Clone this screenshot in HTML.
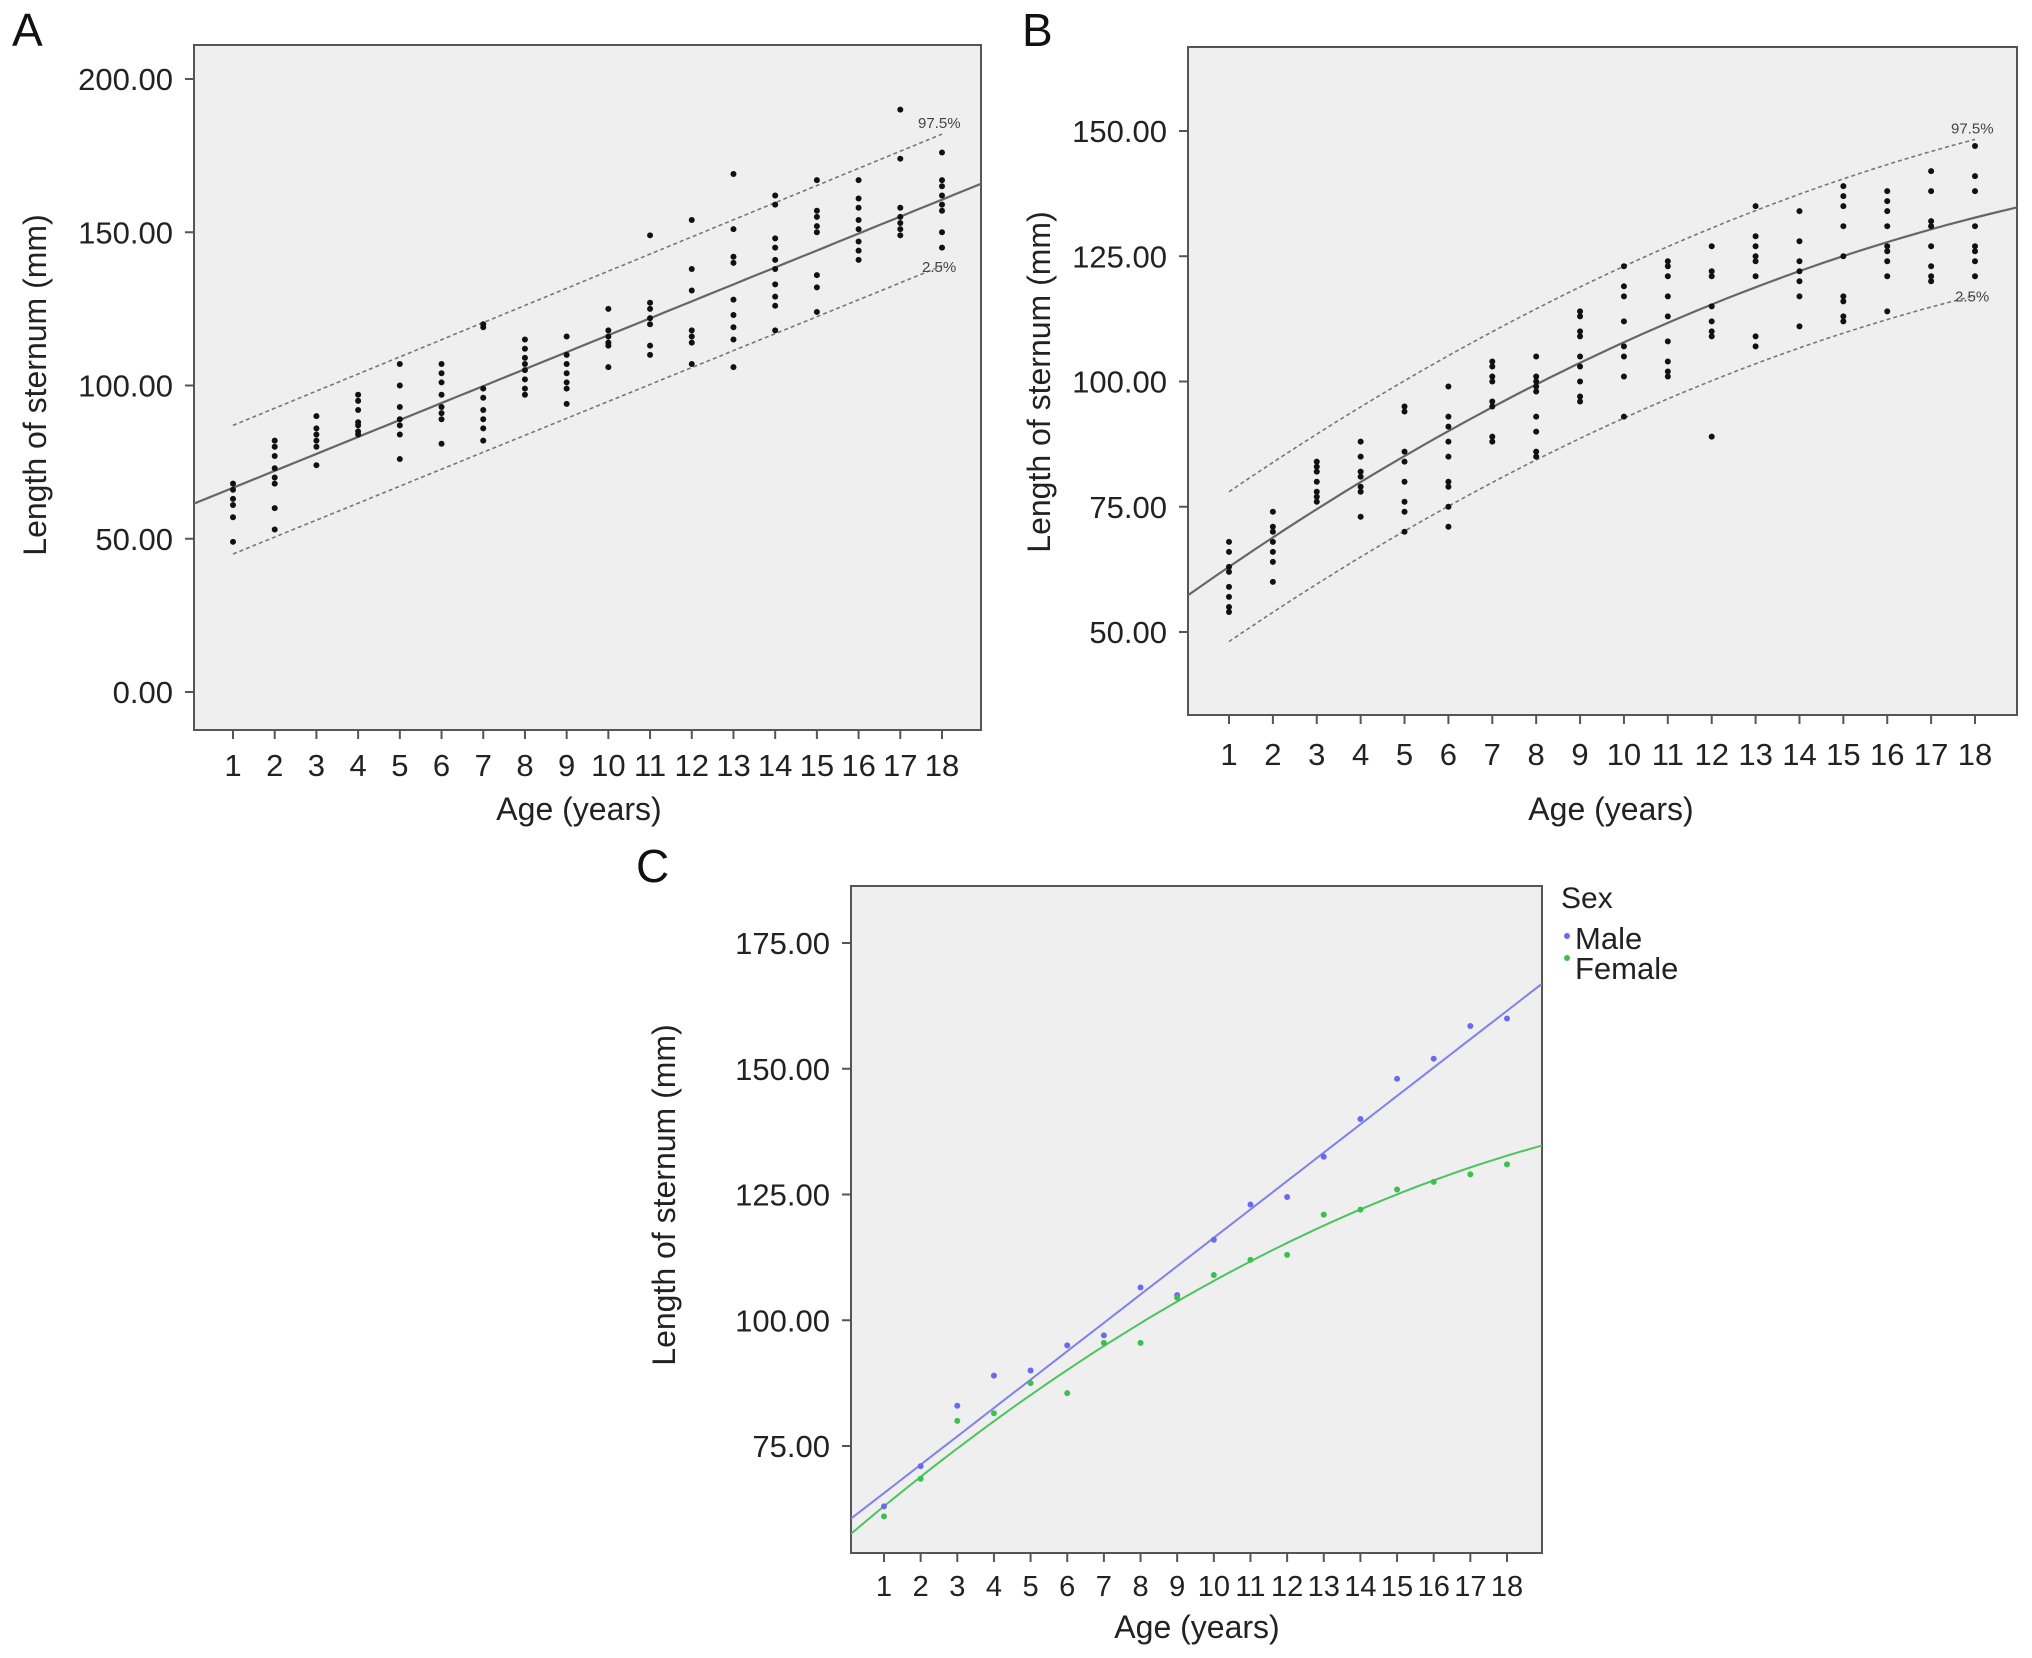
<!DOCTYPE html>
<html><head><meta charset="utf-8">
<style>
html,body{margin:0;padding:0;background:#fff;}
svg{display:block;font-family:"Liberation Sans",Arial,sans-serif;}
</style></head>
<body>
<svg id="fig" width="2032" height="1658" viewBox="0 0 2032 1658"></svg>
<script>
const ages = [1,2,3,4,5,6,7,8,9,10,11,12,13,14,15,16,17,18];
const ticksA = [0,50,100,150,200];
const ticksB = [50,75,100,125,150];
const ticksC = [75,100,125,150,175];
const pointsA = [
[68,66,63,61,57,49],[82,80,77,73,70,68,60,53],[90,86,84,82,80,74],[97,95,92,88,87,85,84],
[107,100,93,89,87,84,76],[107,104,101,97,93,91,89,81],[120,119,99,96,92,89,86,82],
[115,112,109,107,105,102,99,97],[116,110,107,104,101,99,94],[125,118,116,114,113,106],
[149,127,125,122,120,113,110],[154,138,131,118,116,114,107],[169,151,142,140,128,123,119,115,106],
[162,159,148,145,141,138,133,129,126,118],[167,157,155,152,150,136,132,124],
[167,161,158,154,151,147,144,141],[190,174,158,155,153,151,149],[176,167,165,162,159,157,150,145]];
const pointsB = [
[68,66,63,62,59,57,55,54],[74,71,70,68,66,64,60],[84,83,82,80,78,77,76],[88,85,82,81,79,78,73],
[95,94,86,84,80,76,74,70],[99,93,91,88,85,80,79,75,71],[104,103,101,100,96,95,89,88],
[105,101,100,99,98,93,90,86,85],[114,113,110,109,105,103,100,97,96],[123,119,117,112,107,105,101,93],
[124,123,121,117,113,108,104,102,101],[127,122,121,115,112,110,109,89],[135,129,127,125,124,121,109,107],
[134,128,124,122,120,117,111],[139,137,135,131,125,117,116,113,112],[138,136,134,131,127,126,124,121,114],
[142,138,132,131,127,123,121,120],[147,141,138,131,127,126,124,121]];
const maleMeans = [63,71,83,89,90,95,97,106.5,105,116,123,124.5,132.5,140,148,152,158.5,160];
const femaleMeans = [61,68.5,80,81.5,87.5,85.5,95.5,95.5,104.5,109,112,113,121,122,126,127.5,129,131];
// fit coefficients [a,b,c] : a + b*age + c*age^2
const fitA = [61.1,5.53,0], fitAup = [81.4,5.59,0], fitAlo = [39.5,5.53,0];
const fitB = [56.93,6.19,-0.110], fitBup = [71.9,6.19,-0.108], fitBlo = [42.0,6.19,-0.112];
const fitMale = [60.0,5.64,0], fitFemale = [56.93,6.19,-0.110];

const NS="http://www.w3.org/2000/svg";
const svg=document.getElementById('fig');
function mk(tag,attrs,parent){const e=document.createElementNS(NS,tag);for(const k in attrs)e.setAttribute(k,attrs[k]);(parent||svg).appendChild(e);return e;}
function txt(s,attrs,parent){const e=mk('text',attrs,parent);e.textContent=s;return e;}
function evalFit(f,x){return f[0]+f[1]*x+f[2]*x*x;}

function panel(cfg){
  const g=mk('g',{});
  
  
  const xs=a=>cfg.x1+(a-1)*(cfg.x18-cfg.x1)/17;
  const ys=v=>cfg.yA+(v-cfg.vA)*(cfg.yB-cfg.yA)/(cfg.vB-cfg.vA);
  const bg=mk('rect',{x:cfg.L,y:cfg.T,width:cfg.R-cfg.L,height:cfg.B-cfg.T,fill:'#efefef',stroke:'#555','stroke-width':2},g);
  
  
  const clipId=cfg.name+'-clip';
  const cp=mk('clipPath',{id:clipId},g);
  mk('rect',{x:cfg.L,y:cfg.T,width:cfg.R-cfg.L,height:cfg.B-cfg.T},cp);
  cfg.ticks.forEach(v=>{
    const y=ys(v);
    const t=mk('line',{x1:cfg.L-9,x2:cfg.L,y1:y,y2:y,stroke:'#555','stroke-width':2},g);
    
    
    const l=txt(v.toFixed(2),{x:cfg.L-21,y:y+11,'font-size':31,'text-anchor':'end',fill:'#222'},g);
    
    
  });
  ages.forEach(a=>{
    const x=xs(a);
    const t=mk('line',{x1:x,x2:x,y1:cfg.B,y2:cfg.B+9,stroke:'#555','stroke-width':2},g);
    
    
    const l=txt(String(a),{x:x,y:cfg.tickY,'font-size':cfg.tfs||31,'text-anchor':'middle',fill:'#222'},g);
    
    
  });
  const xt=txt('Age (years)',{x:cfg.xtX,y:cfg.xtY,'font-size':32,'text-anchor':'middle',fill:'#222'},g);
  
  
  const yt=txt('Length of sternum (mm)',{x:0,y:0,'font-size':32,'text-anchor':'middle',fill:'#222',transform:`translate(${cfg.ytX},${cfg.ytY}) rotate(-90)`},g);
  
  
  const pl=txt(cfg.letter,{x:cfg.lx,y:cfg.ly,'font-size':46,fill:'#111'},g);
  
  
  const inner=mk('g',{'clip-path':`url(#${clipId})`},g);
  function curve(f,a0,a1,attrs,name){
    let d='';const n=60;
    for(let i=0;i<=n;i++){const a=a0+(a1-a0)*i/n;d+=(i?'L':'M')+xs(a).toFixed(1)+','+ys(evalFit(f,a)).toFixed(1);}
    const p=mk('path',Object.assign({d:d,fill:'none'},attrs),inner);
    
    
  }
  const aL=1-(cfg.x1-cfg.L)/((cfg.x18-cfg.x1)/17), aR=1+(cfg.R-cfg.x1)/((cfg.x18-cfg.x1)/17);
  return {g,inner,xs,ys,curve,aL,aR};
}

function scatterPanel(cfg,pts,fm,fu,fl){
  const p=panel(cfg);
  p.curve(fm,p.aL,p.aR,{stroke:'#666','stroke-width':2.2},'mean-fit-line');
  p.curve(fu,1,18,{stroke:'#777','stroke-width':1.6,'stroke-dasharray':'4,3'},'upper-975-line');
  p.curve(fl,1,18,{stroke:'#777','stroke-width':1.6,'stroke-dasharray':'4,3'},'lower-25-line');
  pts.forEach((arr,i)=>arr.forEach(v=>{
    const c=mk('circle',{cx:p.xs(ages[i]),cy:p.ys(v),r:3,fill:'#111'},p.inner);
    
    
  }));
  const u=txt('97.5%',{x:p.xs(18)-24,y:p.ys(evalFit(fu,18))-6,'font-size':15,fill:'#444'},p.g);
  
  
  const l=txt('2.5%',{x:p.xs(18)-20,y:p.ys(evalFit(fl,18))+6,'font-size':15,fill:'#444'},p.g);
  
  
}

scatterPanel({name:'panel-a',L:194,R:981,T:45,B:730,x1:233,x18:942,vA:200,yA:79,vB:0,yB:692,ticks:ticksA,
  tickY:776,xtX:579,xtY:820,ytX:46,ytY:385,letter:'A',lx:12,ly:46},pointsA,fitA,fitAup,fitAlo);
scatterPanel({name:'panel-b',L:1188,R:2017,T:47,B:715,x1:1229,x18:1975,vA:150,yA:131,vB:50,yB:632,ticks:ticksB,
  tickY:765,xtX:1611,xtY:820,ytX:1050,ytY:382,letter:'B',lx:1022,ly:46},pointsB,fitB,fitBup,fitBlo);

(function(){
  const p=panel({name:'panel-c',L:851,R:1542,T:886,B:1553,x1:884,x18:1507,vA:175,yA:943,vB:75,yB:1446,ticks:ticksC,
    tickY:1596,tfs:29,xtX:1197,xtY:1638,ytX:675,ytY:1195,letter:'C',lx:636,ly:882});
  p.curve(fitMale,p.aL,p.aR,{stroke:'#8080ee','stroke-width':2},'male-fit-line');
  p.curve(fitFemale,p.aL,p.aR,{stroke:'#4cc45c','stroke-width':2},'female-fit-line');
  maleMeans.forEach((v,i)=>{
    const c=mk('circle',{cx:p.xs(ages[i]),cy:p.ys(v),r:3,fill:'#6a6af0'},p.inner);
    
    
  });
  femaleMeans.forEach((v,i)=>{
    const c=mk('circle',{cx:p.xs(ages[i]),cy:p.ys(v),r:3,fill:'#3cbf50'},p.inner);
    
    
  });
  const lg=mk('g',{});
  
  
  const t=txt('Sex',{x:1561,y:908,'font-size':30,fill:'#222'},lg);
  
  
  const m=mk('circle',{cx:1567,cy:936,r:3,fill:'#6a6af0'},lg);
  
  
  const mt=txt('Male',{x:1575,y:949,'font-size':31,fill:'#222'},lg);
  
  
  const f=mk('circle',{cx:1567,cy:958,r:3,fill:'#3cbf50'},lg);
  
  
  const ft=txt('Female',{x:1575,y:979,'font-size':31,fill:'#222'},lg);
  
  
})();
</script>
</body></html>
